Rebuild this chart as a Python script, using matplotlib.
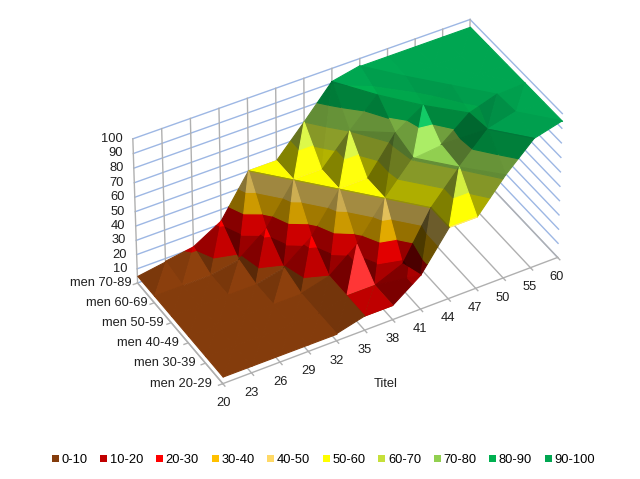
import numpy as np
import matplotlib
matplotlib.use("Agg")
import matplotlib.pyplot as plt
from matplotlib.colors import to_rgb
from matplotlib.patches import Patch
from mpl_toolkits.mplot3d.art3d import Poly3DCollection

plt.rcParams['font.family'] = ['Liberation Sans', 'DejaVu Sans']

x_labels = ["20", "23", "26", "29", "32", "35", "38", "41", "44", "47", "50", "55", "60"]
series_labels = ["men 20-29", "men 30-39", "men 40-49", "men 50-59", "men 60-69", "men 70-89"]
z_ticks = [10, 20, 30, 40, 50, 60, 70, 80, 90, 100]

men_20_29 = [5, 5, 5, 5, 5, 10, 10, 24, 50, 50, 72, 90, 95]
men_30_39 = [5, 5, 5, 5, 5, 10, 10, 18, 50, 71, 90, 95, 95]
men_40_49 = [5, 5, 5, 5, 5, 10, 25, 50, 71, 73, 88, 94, 95]
men_50_59 = [5, 5, 5, 5, 9.5, 24, 50, 50, 75, 87, 94, 95, 95]
men_60_69 = [5, 5, 5, 8.5, 23, 50, 50, 70, 88, 94, 95, 95, 95]
men_70_89 = [5, 8, 11, 22, 50, 50, 70, 91, 95, 95, 95, 95, 95]

band_labels = ["0-10", "10-20", "20-30", "30-40", "40-50", "50-60", "60-70", "70-80", "80-90", "90-100"]
band_colors = ["#843C0C", "#C00000", "#FF0000", "#FFC000", "#FFD966", "#FFFF00", "#C6E03A", "#92D050", "#00B050", "#00A651"]

Z = np.array([men_20_29, men_30_39, men_40_49, men_50_59, men_60_69, men_70_89], dtype=float)
nx = len(x_labels)
ny = len(series_labels)

fig = plt.figure(figsize=(6.4, 4.79), dpi=100)
ax = fig.add_axes([0.1816, 0.1003, 0.7059, 0.7059 * 640 / 479], projection='3d', computed_zorder=False)
ax.set_xlim(0, nx - 1)
ax.set_ylim(0, ny - 1)
ax.set_zlim(0, 100)
ax.set_axis_off()
ax.patch.set_alpha(0)
ax.view_init(elev=39.28, azim=-119.99)
ax.set_proj_type('persp', focal_length=2.1664)
ax.set_box_aspect((1, 0.4577, 0.4795))

grid_gray = "#B0B0B0"
wall_blue = "#9DB7E4"

# walls and floor
for z in [0] + z_ticks:
    ax.plot([0, nx - 1], [ny - 1, ny - 1], [z, z], color=wall_blue, lw=1, zorder=1)
    ax.plot([nx - 1, nx - 1], [0, ny - 1], [z, z], color=wall_blue, lw=1, zorder=1)
for i in range(nx):
    ax.plot([i, i], [ny - 1, ny - 1], [0, 100], color=grid_gray, lw=1, zorder=1)
    ax.plot([i, i], [0, ny - 1], [0, 0], color=grid_gray, lw=1, zorder=1)
    ax.plot([i, i], [0, -0.12], [0, 0], color=grid_gray, lw=1, zorder=1)
for j in range(ny):
    ax.plot([0, -0.15], [j, j], [0, 0], color=grid_gray, lw=1, zorder=1)
ax.plot([0, nx - 1], [0, 0], [0, 0], color=grid_gray, lw=1, zorder=1)
ax.plot([0, 0], [0, ny - 1], [0, 0], color=grid_gray, lw=1, zorder=1)

SX, SY, SZ = 32.0, 34.6, 1.94
light = np.array([0.35, -0.45, 0.82])


def shade(color, tri):
    a, b, c = [np.array([p[0] * SX, p[1] * SY, p[2] * SZ]) for p in tri]
    n = np.cross(b - a, c - a)
    n = n / np.linalg.norm(n)
    if n[2] < 0:
        n = -n
    dot = float(n @ light)
    k = 0.3 + 0.85 * dot
    spec = max(0.0, dot - 0.87) * 4.5 if n[1] < -0.4 else 0.0
    return np.clip(np.array(to_rgb(color)) * k + spec, 0, 1)


def clip_band(tri, lo, hi):
    poly = [np.array(p, float) for p in tri]
    for level, keep_above in ((lo, True), (hi, False)):
        out = []
        for k in range(len(poly)):
            p, q = poly[k], poly[(k + 1) % len(poly)]
            pin = p[2] >= level if keep_above else p[2] <= level
            qin = q[2] >= level if keep_above else q[2] <= level
            if pin:
                out.append(p)
            if pin != qin:
                t = (level - p[2]) / (q[2] - p[2])
                out.append(p + t * (q - p))
        poly = out
        if not poly:
            return []
    return poly


# back to front, the camera sits on the low x, low y side
order = 2
for j in range(ny - 2, -1, -1):
    for i in range(nx - 2, -1, -1):
        p00 = (i, j, Z[j, i])
        p10 = (i + 1, j, Z[j, i + 1])
        p01 = (i, j + 1, Z[j + 1, i])
        p11 = (i + 1, j + 1, Z[j + 1, i + 1])
        # the cell is split along its higher diagonal
        if Z[j, i] + Z[j + 1, i + 1] >= Z[j, i + 1] + Z[j + 1, i]:
            tris = [(p00, p01, p11), (p00, p10, p11)]
        else:
            tris = [(p10, p11, p01), (p00, p10, p01)]
        for tri in tris:
            polys, cols = [], []
            for b, color in enumerate(band_colors):
                poly = clip_band(tri, b * 10, (b + 1) * 10)
                if len(poly) >= 3:
                    polys.append(poly)
                    cols.append(shade(color, tri))
            pc = Poly3DCollection(polys, facecolors=cols, edgecolors=cols, linewidths=0.8, zorder=order)
            ax.add_collection3d(pc)
            order += 1

text_size = 9.3
for i, lab in enumerate(x_labels):
    ax.text(i, 0, -14, lab, ha='center', va='center', fontsize=text_size, color='#202020', zorder=1000)
for j, lab in enumerate(series_labels):
    off = -0.38 + 0.035 * j
    ax.text(off, j, -off * 7.3, lab, ha='right', va='center', fontsize=text_size, color='#202020', zorder=1000)
for z in z_ticks:
    ax.text(-0.35, ny - 1, z + 2.6, str(z), ha='right', va='center', fontsize=text_size, color='#202020', zorder=1000)

fig.text(386 / 640, 1 - 384 / 479, "Titel", ha='center', va='center', fontsize=text_size, color='#202020')

handles = [Patch(facecolor=c, edgecolor='none', label=l) for c, l in zip(band_colors, band_labels)]
fig.legend(handles=handles, ncol=10, loc='center', bbox_to_anchor=(323.5 / 640, 1 - 460 / 479), frameon=False,
           fontsize=text_size, handlelength=0.55, handleheight=0.55, handletextpad=0.2, columnspacing=0.98)

fig.savefig("out.png", dpi=100)
